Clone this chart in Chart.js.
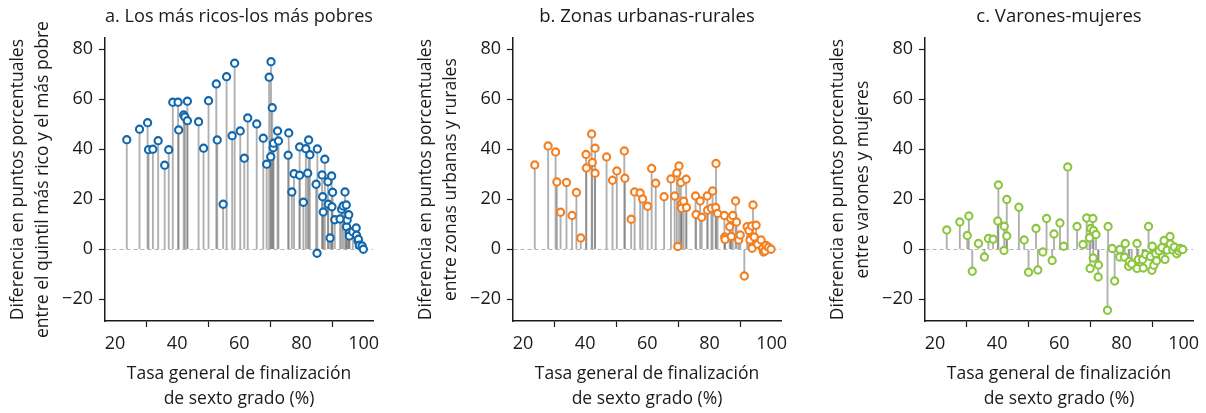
<!DOCTYPE html>
<html>
<head>
<meta charset="utf-8">
<script src="https://cdn.jsdelivr.net/npm/chart.js@4/dist/chart.umd.min.js"></script>
<style>
  body { margin: 0; width: 1206px; height: 413px; background: #fff; position: relative; overflow: hidden; }
  .panel { position: absolute; top: 0; width: 402px; height: 413px; }
</style>
</head>
<body>
<div class="panel" style="left:0px"><canvas id="chartA" width="402" height="413"></canvas></div>
<div class="panel" style="left:408px"><canvas id="chartB" width="402" height="413"></canvas></div>
<div class="panel" style="left:820px"><canvas id="chartC" width="402" height="413"></canvas></div>
<script>
// a. richest vs poorest quintile gap (x = completion rate, y = gap)
const ricosX = [23.8, 27.9, 30.5, 30.8, 32.2, 33.9, 36.0, 37.3, 38.6, 40.3, 40.5, 42.1, 42.5, 43.3, 43.3,
  46.9, 48.5, 50.1, 52.6, 52.9, 54.8, 55.9, 57.7, 58.5, 60.3, 61.6, 62.7, 65.6, 67.7, 68.8, 69.6, 70.1,
  70.2, 70.6, 70.9, 71.0, 72.3, 72.6, 75.9, 75.7, 77.6, 76.9, 79.4, 79.4, 80.6, 81.4, 82.0, 82.3, 82.7,
  84.7, 85.0, 85.1, 86.6, 86.8, 87.0, 87.5, 88.5, 88.6, 89.2, 89.7, 89.8, 90.0, 90.7, 92.4, 92.9, 93.4,
  94.0, 94.4, 94.5, 94.7, 95.2, 95.4, 95.4, 96.5, 97.6, 97.7, 98.2, 98.3, 98.6, 99.5, 99.9];
const ricosY = [43.8, 48.0, 50.6, 39.8, 40.0, 43.4, 33.6, 39.8, 58.8, 58.8, 47.7, 53.7, 52.9, 59.2, 51.4,
  51.0, 40.4, 59.4, 66.1, 43.7, 18.0, 69.0, 45.4, 74.4, 47.3, 36.4, 52.5, 50.1, 44.4, 34.0, 68.8, 37.0,
  75.0, 56.6, 40.6, 42.4, 47.3, 43.3, 46.5, 37.6, 30.2, 22.9, 29.6, 40.9, 18.8, 40.2, 30.4, 43.7, 37.8,
  26.0, -1.6, 40.1, 29.7, 21.0, 14.9, 36.0, 27.0, 18.0, 4.5, 29.3, 17.0, 22.8, 11.8, 12.1, 16.0, 17.3,
  22.9, 17.7, 9.0, 11.7, 13.8, 6.6, 5.3, 7.0, 8.5, 5.6, 3.3, 4.0, 1.6, 1.3, 0.0];

// b. urban vs rural gap
const urbanX = [23.8, 28.1, 30.5, 30.9, 32.1, 34.0, 35.8, 37.2, 38.6, 40.3, 40.4, 42.1, 42.3, 43.2, 43.2,
  46.9, 48.8, 50.2, 52.6, 52.8, 54.8, 55.9, 57.7, 58.5, 60.1, 61.4, 62.7, 65.4, 67.6, 68.8, 69.5, 70.2,
  69.8, 70.8, 71.0, 71.0, 71.7, 72.5, 72.6, 75.5, 75.7, 77.0, 77.5, 79.3, 79.4, 80.6, 81.0, 82.1, 82.0,
  82.6, 84.8, 84.9, 85.0, 86.5, 86.8, 87.0, 87.5, 88.4, 88.7, 89.4, 89.9, 91.2, 92.1, 92.7, 93.0, 93.6,
  94.0, 93.7, 95.0, 94.4, 95.5, 96.6, 97.1, 97.4, 97.9, 98.2, 99.0, 99.8];
const urbanY = [33.7, 41.3, 38.9, 26.9, 14.8, 26.7, 13.5, 22.7, 4.5, 37.9, 32.5, 46.1, 34.7, 40.4, 30.4,
  36.9, 27.6, 31.3, 39.3, 28.4, 12.0, 22.9, 22.5, 20.1, 17.2, 32.3, 26.4, 21.0, 28.1, 21.3, 30.5, 33.3,
  1.1, 26.7, 18.1, 16.4, 19.2, 28.0, 16.7, 21.3, 13.9, 19.3, 12.8, 21.3, 15.6, 16.4, 23.3, 34.3, 16.7,
  14.3, 13.5, 4.9, 3.9, 9.0, 12.3, 5.1, 13.5, 19.3, 10.9, 3.7, 5.7, -10.7, 9.0, 7.5, 3.7, 9.3,
  17.7, 0.4, 9.6, 4.9, 2.0, 3.7, 0.3, -1.1, -0.7, 1.5, 0.8, 0.0];

// c. boys vs girls gap
const sexoX = [23.8, 28.0, 30.9, 30.4, 32.0, 34.0, 35.9, 37.2, 38.7, 40.4, 40.2, 42.2, 42.3, 43.1, 43.1,
  47.0, 48.7, 50.1, 52.5, 53.1, 54.7, 55.9, 57.7, 58.3, 60.2, 61.4, 62.7, 65.7, 67.6, 68.8, 69.7, 69.9,
  70.1, 70.8, 70.9, 71.0, 71.8, 72.6, 72.5, 75.7, 75.5, 77.0, 77.8, 79.5, 79.4, 81.2, 81.0, 82.3, 82.5,
  83.3, 85.0, 85.0, 85.4, 87.0, 86.8, 87.8, 88.7, 89.3, 89.9, 89.8, 90.4, 91.0, 91.3, 92.1, 93.2, 93.0,
  93.7, 94.0, 94.7, 95.6, 95.7, 96.5, 97.0, 97.8, 98.4, 98.9, 99.7];
const sexoY = [7.7, 10.9, 13.3, 5.5, -8.8, 2.3, -3.1, 4.3, 4.0, 25.7, 11.3, -0.5, 9.2, 19.9, 5.3,
  16.8, 3.7, -9.2, 8.3, -8.3, -1.1, 12.3, -4.5, 6.1, 10.5, 1.2, 32.9, 9.1, 1.9, 12.5, 4.6, -7.7,
  8.3, 12.3, -3.5, 7.5, 5.9, -6.3, -11.1, 9.1, -24.4, 0.3, -12.7, -0.1, -3.1, 2.3, -3.2, -6.8, -4.9,
  -5.9, 2.3, -7.7, -4.1, -7.5, -4.1, -2.1, 9.1, -2.9, 1.2, -8.4, -6.4, -1.8, -4.6, -0.7, -3.1, 0.7,
  3.5, -4.1, -0.3, 5.1, 2.1, -0.3, 0.9, -1.8, -0.7, 0.3, -0.1];

const yTicks = [-20, 0, 20, 40, 60, 80];
const xTicks = [20, 40, 60, 80, 100];

const FONT = "'Open Sans', 'DejaVu Sans', sans-serif";
const INK = '#1a1a1a';

function pairs(xs, ys) {
    return xs.map((x, i) => ({ x: x, y: ys[i] }));
}

// use a real minus sign on the tick labels
function fmtTick(v) {
    return String(v).replace('-', '\u2212');
}

function makePanel(canvasId, title, yTitle, xs, ys, color) {
    new Chart(document.getElementById(canvasId), {
        type: 'scatter',
        data: {
            datasets: [
                {
                    // stems
                    type: 'bar',
                    data: pairs(xs, ys),
                    backgroundColor: 'rgba(110,110,110,0.55)',
                    barThickness: 1.2,
                    order: 2
                },
                {
                    // markers
                    type: 'scatter',
                    data: pairs(xs, ys),
                    pointStyle: 'circle',
                    pointRadius: 3.6,
                    pointBorderWidth: 2.1,
                    pointBackgroundColor: '#ffffff',
                    pointBorderColor: color,
                    order: 1
                }
            ]
        },
        options: {
            responsive: false,
            animation: false,
            layout: { padding: { left: 0, right: 29, top: 0, bottom: 0 } },
            plugins: {
                legend: { display: false },
                tooltip: { enabled: false },
                title: {
                    display: true,
                    text: title,
                    fullSize: false,
                    color: INK,
                    font: { family: FONT, size: 18.5, weight: 'normal', lineHeight: 1.2 },
                    padding: { top: 6, bottom: 10 }
                }
            },
            scales: {
                x: {
                    type: 'linear',
                    offset: false,
                    min: 16.8,
                    max: 103,
                    afterBuildTicks: (s) => { s.ticks = xTicks.map(v => ({ value: v })); },
                    afterFit: (s) => { s.height = 92; },
                    grid: { drawOnChartArea: false, drawTicks: true, tickLength: 6, tickColor: INK, tickWidth: 1.2 },
                    border: { color: INK, width: 1.5 },
                    ticks: { color: INK, padding: 6, maxRotation: 0, callback: fmtTick, font: { family: FONT, size: 18 } },
                    title: {
                        display: true,
                        text: ['Tasa general de finalización', 'de sexto grado (%)'],
                        color: INK,
                        font: { family: FONT, size: 17.5, lineHeight: 1.4 },
                        padding: { top: 0, bottom: 2 }
                    }
                },
                y: {
                    type: 'linear',
                    min: -28.7,
                    max: 84.4,
                    afterBuildTicks: (s) => { s.ticks = yTicks.map(v => ({ value: v })); },
                    afterFit: (s) => { s.width = 105; },
                    grid: {
                        drawOnChartArea: true,
                        drawTicks: true,
                        tickLength: 6,
                        tickColor: INK,
                        tickWidth: 1.2,
                        color: (c) => (c.tick && c.tick.value === 0) ? '#b4b4b4' : 'rgba(0,0,0,0)'
                    },
                    border: { color: INK, width: 1.5, dash: [4, 3] },
                    ticks: { color: INK, padding: 6, callback: fmtTick, font: { family: FONT, size: 18 } },
                    title: {
                        display: true,
                        text: yTitle,
                        color: INK,
                        font: { family: FONT, size: 17.5, lineHeight: 1.4 },
                        padding: { top: 6, bottom: 0 }
                    }
                }
            }
        }
    });
}

makePanel('chartA', 'a. Los más ricos-los más pobres',
    ['Diferencia en puntos porcentuales', 'entre el quintil más rico y el más pobre'],
    ricosX, ricosY, '#1067ad');
makePanel('chartB', 'b. Zonas urbanas-rurales',
    ['Diferencia en puntos porcentuales', 'entre zonas urbanas y rurales'],
    urbanX, urbanY, '#f47f20');
makePanel('chartC', 'c. Varones-mujeres',
    ['Diferencia en puntos porcentuales', 'entre varones y mujeres'],
    sexoX, sexoY, '#8cc63f');
</script>
</body>
</html>
